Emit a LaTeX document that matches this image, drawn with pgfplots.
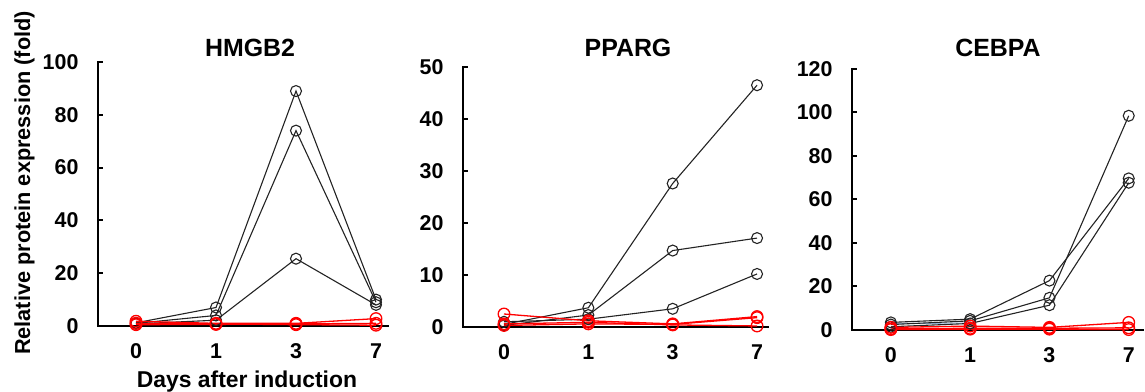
\documentclass[border=0pt]{standalone}
\usepackage{pgfplots}
\pgfplotsset{compat=1.18}
\usepackage{fontspec}
\setmainfont{Liberation Sans}
\definecolor{blk}{RGB}{35,35,35}
\definecolor{lblue}{RGB}{150,185,220}
\pgfplotsset{
  panel/.style={
    scale only axis,
    anchor=south west,
    axis x line*=bottom, axis y line*=left,
    axis line style={line width=2.2bp, line cap=rect},
    tick align=inside,
    major tick length=5bp,
    y tick style={line width=2bp, black},
    x tick style={draw=none},
    xtick={0,1,2,3}, xticklabels={0,1,3,7},
    ymin=0, clip=false,
    ticklabel style={font=\fontsize{21.5}{21.5}\selectfont\bfseries},
    /pgf/number format/assume math mode=true,
    xticklabel style={yshift=-14bp},
  },
  blk/.style={color=blk, line width=1.1bp, mark=o, mark size=5.5bp, mark options={line width=1.1bp, fill=none}},
  rd/.style={color=red, line width=1.3bp, mark=o, mark size=5.8bp, mark options={line width=1.3bp, fill=none}},
}
\begin{document}
\begin{tikzpicture}
\useasboundingbox (0,0) rectangle (1145bp,392bp);
% HMGB2
\begin{axis}[panel, at={(98bp,66bp)}, width=290bp, height=264bp,
  xmin=-0.475, xmax=3.15, ymax=100, ytick={0,20,40,60,80,100},
  every y tick label/.append style={xshift=-16bp}]
\addplot[blk] coordinates {(0,1.2)(1,7)(2,89)(3,10)};
\addplot[blk] coordinates {(0,1)(1,4)(2,74)(3,9)};
\addplot[blk] coordinates {(0,0.8)(1,2.2)(2,25.5)(3,8)};
\addplot[rd] coordinates {(0,1.8)(1,1)(2,1)(3,2.8)};
\addplot[rd] coordinates {(0,0.5)(1,0.6)(2,0.8)(3,1)};
\addplot[rd] coordinates {(0,1)(1,0.8)(2,0.5)(3,0.3)};
\end{axis}
% PPARG
\begin{axis}[panel, at={(463bp,65bp)}, width=305bp, height=260bp,
  xmin=-0.486, xmax=3.13, ymax=50, ytick={0,10,20,30,40,50},
  every y tick label/.append style={xshift=-16bp}]
\addplot[blk] coordinates {(0,0.5)(1,3.7)(2,27.6)(3,46.5)};
\addplot[blk] coordinates {(0,0.3)(1,2.3)(2,14.7)(3,17.1)};
\addplot[blk] coordinates {(0,1)(1,1.5)(2,3.5)(3,10.2)};
\addplot[rd] coordinates {(0,2.5)(1,1.2)(2,0.6)(3,2)};
\addplot[rd] coordinates {(0,0.3)(1,0.6)(2,0.5)(3,1.8)};
\addplot[rd] coordinates {(0,0.6)(1,0.9)(2,0.4)(3,0.2)};
\end{axis}
% CEBPA
\begin{axis}[panel, at={(852bp,62bp)}, width=291bp, height=261bp,
  xmin=-0.49, xmax=3.18, ymax=120, ytick={0,20,40,60,80,100,120},
  every y tick label/.append style={xshift=-16bp}]
\addplot[color=lblue, line width=1.1bp] coordinates {(0,3)(1,3.2)};
\addplot[blk] coordinates {(0,3.5)(1,5)(2,22.7)(3,69.7)};
\addplot[blk] coordinates {(0,2.5)(1,4.2)(2,14.8)(3,98.5)};
\addplot[blk] coordinates {(0,1.5)(1,3)(2,11.4)(3,67.7)};
\addplot[rd] coordinates {(0,1.2)(1,1.8)(2,1.2)(3,3.5)};
\addplot[rd] coordinates {(0,0.5)(1,0.8)(2,0.8)(3,1)};
\addplot[rd] coordinates {(0,0.2)(1,0.4)(2,0.4)(3,0.2)};
\end{axis}
\node[anchor=base, font=\fontsize{25}{25}\selectfont\bfseries] at (250bp,335bp) {HMGB2};
\node[anchor=base, font=\fontsize{25}{25}\selectfont\bfseries] at (628bp,335bp) {PPARG};
\node[anchor=base, font=\fontsize{25}{25}\selectfont\bfseries] at (998bp,335bp) {CEBPA};
\node[anchor=base, font=\fontsize{23}{23}\selectfont\bfseries] at (247bp,5bp) {Days after induction};
\node[anchor=base, rotate=90, font=\fontsize{21.8}{21.8}\selectfont\bfseries] at (30bp,209bp) {Relative protein expression (fold)};
\end{tikzpicture}
\end{document}
